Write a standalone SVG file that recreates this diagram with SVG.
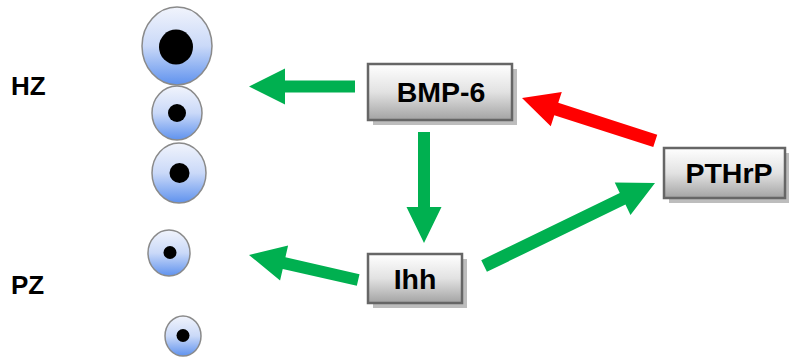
<svg xmlns="http://www.w3.org/2000/svg" width="789" height="359" viewBox="0 0 789 359">
  <defs>
    <linearGradient id="cellFill" x1="0" y1="0" x2="0" y2="1">
      <stop offset="0" stop-color="#f1f4fc"/>
      <stop offset="0.5" stop-color="#cad9f8"/>
      <stop offset="1" stop-color="#5f92ee"/>
    </linearGradient>
    <linearGradient id="boxFill" x1="0" y1="0" x2="0" y2="1">
      <stop offset="0" stop-color="#ffffff"/>
      <stop offset="0.5" stop-color="#e2e2e2"/>
      <stop offset="1" stop-color="#a3a3a3"/>
    </linearGradient>
  </defs>
  <style>
    .cell { fill: url(#cellFill); stroke: #8a8a8a; stroke-width: 1.5; }
    .nucleus { fill: #000; }
    .shadow { fill: #bdbdbd; }
    .box { fill: url(#boxFill); stroke: #666; stroke-width: 2.5; }
    .label { font-family: "Liberation Sans", Arial, sans-serif; font-weight: bold; font-size: 28.5px; fill: #000; text-anchor: middle; }
    .zone { font-family: "Liberation Sans", Arial, sans-serif; font-weight: bold; font-size: 26px; fill: #000; }
    .green { fill: #00b050; }
    .red { fill: #ff0000; }
  </style>

  <!-- zone labels -->
  <text class="zone" x="11" y="95">HZ</text>
  <text class="zone" x="11" y="294">PZ</text>

  <!-- cell column -->
  <g id="cell-1">
    <ellipse class="cell" cx="177" cy="46" rx="35" ry="39"/>
    <ellipse class="nucleus" cx="176" cy="47" rx="17" ry="17.5"/>
  </g>
  <g id="cell-2">
    <ellipse class="cell" cx="177" cy="113" rx="25" ry="27"/>
    <ellipse class="nucleus" cx="177" cy="113" rx="9" ry="9"/>
  </g>
  <g id="cell-3">
    <ellipse class="cell" cx="179" cy="173" rx="27" ry="30"/>
    <ellipse class="nucleus" cx="179.5" cy="173" rx="10" ry="10"/>
  </g>
  <g id="cell-4">
    <ellipse class="cell" cx="169" cy="253" rx="21" ry="23"/>
    <circle class="nucleus" cx="170" cy="252.5" r="6.5"/>
  </g>
  <g id="cell-5">
    <ellipse class="cell" cx="183" cy="336" rx="18" ry="20"/>
    <circle class="nucleus" cx="183" cy="335.5" r="6.5"/>
  </g>

  <!-- signalling arrows: local shape has its tip at the origin, pointing toward -x -->
  <g id="connectors">
    <polygon class="green" transform="translate(249,86.5)" points="0,0 36,-18 36,-6 106,-6 106,6 36,6 36,18"/>
    <polygon class="green" transform="translate(249,255) rotate(12.9)" points="0,0 36,-18 36,-6 112,-6 112,6 36,6 36,18"/>
    <polygon class="green" transform="translate(424,243) rotate(-90)" points="0,0 36,-17.5 36,-6 111,-6 111,6 36,6 36,17.5"/>
    <polygon class="green" transform="translate(655,183) rotate(154.1)" points="0,0 36,-18 36,-6.5 190,-6.5 190,6.5 36,6.5 36,18"/>
    <polygon class="red" transform="translate(522,98) rotate(17.85)" points="0,0 36,-18 36,-6.5 140,-6.5 140,6.5 36,6.5 36,18"/>
  </g>

  <!-- signalling factors -->
  <g id="node-bmp6">
    <rect class="shadow" x="373" y="69" width="144" height="56"/>
    <rect class="box" x="368" y="64" width="144" height="56"/>
    <text class="label" x="441" y="102">BMP-6</text>
  </g>
  <g id="node-ihh">
    <rect class="shadow" x="373" y="259" width="94" height="49"/>
    <rect class="box" x="368" y="254" width="94" height="49"/>
    <text class="label" x="415" y="289">Ihh</text>
  </g>
  <g id="node-pthrp">
    <rect class="shadow" x="669" y="153" width="120" height="50"/>
    <rect class="box" x="664" y="148" width="121" height="50"/>
    <text class="label" x="729" y="183">PTHrP</text>
  </g>
</svg>
